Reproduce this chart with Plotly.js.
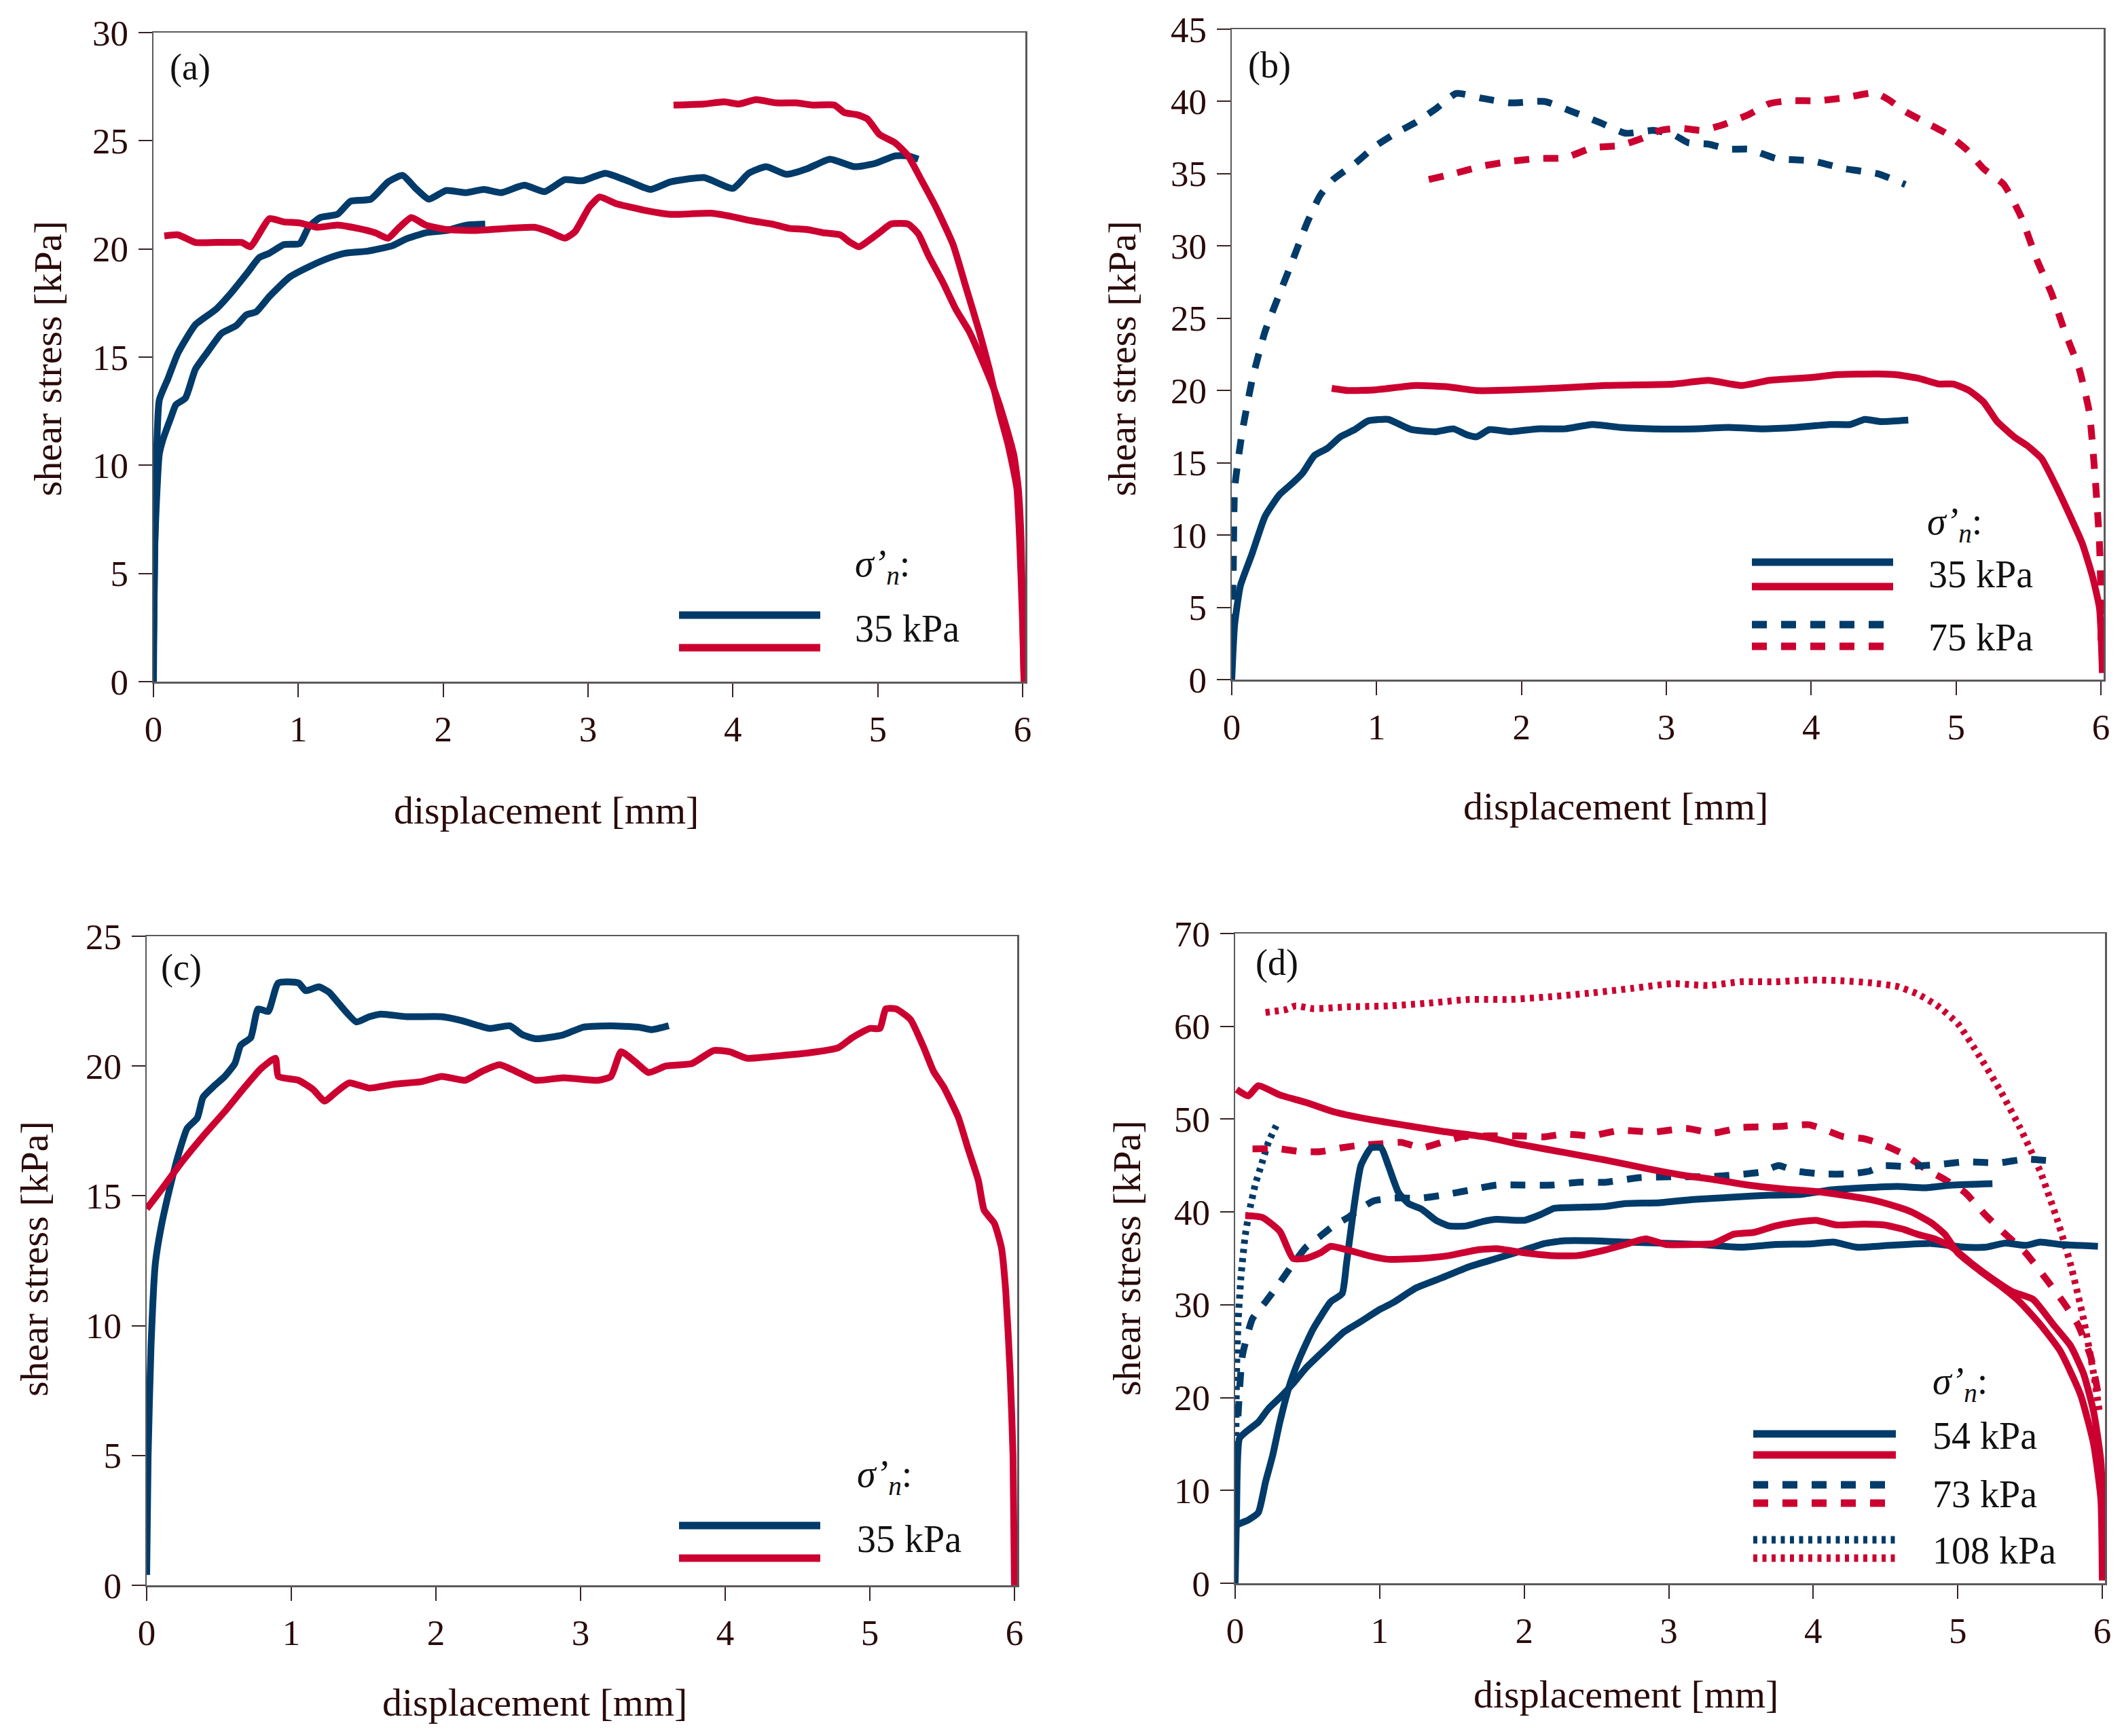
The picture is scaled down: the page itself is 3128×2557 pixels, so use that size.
<!DOCTYPE html>
<html>
<head>
<meta charset="utf-8">
<script src="https://cdn.plot.ly/plotly-3.0.1.min.js"></script>
<style>html,body{margin:0;padding:0;background:#fff;}#plot{width:3128px;height:2557px;}</style>
</head>
<body>
<div id="plot"></div>
<script>
// ---------------- DATA ----------------
// Panel (a)
const a_blue1_x = [0,0.01,0.04,0.1,0.17,0.29,0.43,0.54,0.66,0.73,0.8,0.9,1.01,1.07,1.15,1.27,1.36,1.5,1.62,1.72,1.81,1.9,2.02,2.16,2.28,2.4,2.56,2.7,2.84,2.96,3.12,3.29,3.43,3.57,3.8,4.0,4.11,4.23,4.37,4.51,4.67,4.84,4.98,5.12,5.21,5.28];
const a_blue1_y = [1.6,6.5,13.0,14.0,15.2,16.5,17.2,18.0,19.0,19.6,19.8,20.2,20.25,21.0,21.45,21.6,22.2,22.3,23.1,23.4,22.8,22.3,22.7,22.6,22.75,22.6,22.95,22.65,23.2,23.15,23.5,23.1,22.75,23.1,23.3,22.8,23.5,23.8,23.45,23.7,24.15,23.8,23.95,24.3,24.3,24.15];
const a_blue2_x = [0,0.01,0.04,0.066,0.12,0.155,0.22,0.29,0.38,0.47,0.57,0.64,0.71,0.8,0.94,1.08,1.22,1.32,1.48,1.65,1.74,1.88,2.02,2.16,2.29];
const a_blue2_y = [0,6.5,10.5,11.2,12.2,12.8,13.1,14.45,15.3,16.1,16.45,16.95,17.1,17.8,18.7,19.2,19.6,19.8,19.9,20.15,20.45,20.75,20.85,21.1,21.15];
const a_red1_x = [3.59,3.8,3.94,4.04,4.16,4.3,4.44,4.55,4.7,4.77,4.86,4.93,5.01,5.12,5.21,5.3,5.4,5.52,5.61,5.7,5.77,5.84,5.9,5.96,5.98,6.0,6.01];
const a_red1_y = [26.65,26.7,26.8,26.7,26.9,26.75,26.75,26.65,26.65,26.3,26.2,26.0,25.3,24.9,24.3,23.2,21.95,20.2,18.2,16.2,14.45,12.45,10.95,8.95,6.45,2.7,0];
const a_red2_x = [0.075,0.17,0.29,0.43,0.54,0.61,0.67,0.73,0.8,0.9,1.01,1.13,1.27,1.41,1.53,1.62,1.69,1.78,1.88,2.02,2.21,2.44,2.63,2.73,2.84,2.91,3.01,3.08,3.19,3.38,3.57,3.85,3.99,4.13,4.27,4.39,4.51,4.62,4.74,4.81,4.87,4.95,5.02,5.09,5.21,5.28,5.35,5.45,5.54,5.63,5.73,5.82,5.89,5.94,5.97,5.99,6.01];
const a_red2_y = [20.6,20.65,20.3,20.3,20.3,20.3,20.1,20.7,21.4,21.25,21.2,21.0,21.1,20.95,20.75,20.5,20.95,21.45,21.1,20.9,20.85,20.95,21.0,20.8,20.5,20.8,21.95,22.4,22.1,21.8,21.6,21.65,21.5,21.3,21.15,20.95,20.9,20.75,20.65,20.3,20.1,20.45,20.8,21.15,21.15,20.7,19.7,18.45,17.2,16.2,14.7,13.2,11.7,10.45,8.95,6.45,0];

// Panel (b)
const b_blue_solid_x = [0,0.02,0.06,0.14,0.23,0.33,0.42,0.49,0.57,0.66,0.75,0.85,0.94,1.08,1.15,1.24,1.41,1.53,1.62,1.69,1.78,1.92,2.11,2.3,2.49,2.68,2.91,3.19,3.43,3.66,3.9,4.13,4.27,4.37,4.48,4.67];
const b_blue_solid_y = [0,3.8,6.5,8.7,11.3,12.8,13.6,14.3,15.5,16.0,16.8,17.3,17.9,18.0,17.7,17.3,17.15,17.35,16.95,16.8,17.3,17.15,17.35,17.35,17.65,17.45,17.35,17.35,17.45,17.35,17.45,17.65,17.65,18.0,17.85,17.95];
const b_red_solid_x = [0.69,0.8,0.99,1.27,1.5,1.69,2.11,2.58,3.05,3.29,3.52,3.71,4.0,4.18,4.46,4.58,4.74,4.88,4.98,5.09,5.19,5.28,5.4,5.49,5.59,5.68,5.77,5.87,5.94,5.99,6.01];
const b_red_solid_y = [20.15,20.0,20.05,20.35,20.25,20.0,20.1,20.35,20.45,20.7,20.35,20.7,20.9,21.1,21.15,21.1,20.85,20.45,20.45,20.0,19.2,17.9,16.8,16.2,15.3,13.6,11.7,9.45,7.2,4.95,0.45];
const b_blue_dash_x = [0,0.01,0.02,0.07,0.14,0.23,0.33,0.42,0.52,0.61,0.7,0.85,0.99,1.13,1.27,1.41,1.55,1.74,1.92,2.16,2.35,2.54,2.72,2.91,3.05,3.15,3.29,3.43,3.57,3.76,4.0,4.23,4.46,4.65];
const b_blue_dash_y = [3.5,7.2,13.2,17.0,20.7,24.1,26.7,29.0,31.6,33.5,34.6,35.7,36.9,37.8,38.55,39.5,40.55,40.2,39.9,40.0,39.3,38.55,37.8,38.0,37.7,37.15,37.05,36.7,36.7,36.05,35.9,35.35,35.0,34.25];
const b_red_dash_x = [1.36,1.55,1.74,1.92,2.11,2.3,2.49,2.68,2.82,2.96,3.1,3.24,3.38,3.57,3.71,3.85,4.04,4.23,4.44,4.53,4.65,4.79,4.93,5.07,5.19,5.33,5.45,5.56,5.66,5.75,5.85,5.92,5.96,5.99,6.0,6.0];
const b_red_dash_y = [34.6,35.05,35.55,35.85,36.05,36.1,36.8,36.95,37.4,38.0,38.15,38.0,38.35,39.1,39.85,40.05,40.05,40.25,40.6,40.15,39.3,38.55,37.8,36.7,35.35,34.25,32.0,29.0,26.7,24.1,21.5,18.5,14.0,9.45,5.7,2.7];

// Panel (c)
const c_blue_x = [0,0.01,0.03,0.06,0.1,0.16,0.22,0.28,0.35,0.39,0.46,0.54,0.61,0.65,0.72,0.77,0.84,0.91,1.05,1.1,1.19,1.26,1.33,1.45,1.54,1.62,1.8,2.04,2.18,2.37,2.51,2.6,2.69,2.88,3.02,3.21,3.4,3.49,3.61];
const c_blue_y = [0.4,5.0,9.2,12.4,13.8,15.3,16.6,17.6,18.0,18.8,19.2,19.6,20.1,20.8,21.1,22.2,22.1,23.2,23.2,22.9,23.05,22.85,22.4,21.7,21.9,22.0,21.9,21.9,21.75,21.45,21.55,21.2,21.05,21.2,21.5,21.55,21.5,21.4,21.55];
const c_red_x = [0,0.11,0.25,0.39,0.54,0.68,0.79,0.89,0.91,1.05,1.15,1.23,1.31,1.4,1.54,1.71,1.9,2.04,2.2,2.32,2.44,2.55,2.69,2.88,3.12,3.21,3.28,3.38,3.47,3.59,3.77,3.92,4.03,4.15,4.38,4.57,4.78,4.88,5.0,5.07,5.11,5.18,5.28,5.37,5.44,5.51,5.61,5.68,5.75,5.79,5.86,5.91,5.94,5.97,5.99,6.0];
const c_red_y = [14.5,15.3,16.35,17.3,18.25,19.2,19.9,20.3,19.6,19.45,19.1,18.65,19.0,19.35,19.15,19.3,19.4,19.6,19.45,19.8,20.05,19.8,19.45,19.55,19.45,19.6,20.55,20.15,19.75,20.0,20.1,20.6,20.55,20.3,20.4,20.5,20.7,21.1,21.45,21.45,22.2,22.2,21.8,20.75,19.8,19.2,18.05,16.8,15.6,14.45,13.95,13.0,11.3,8.2,5.0,0];

// Panel (d)
const d_blue_spike_x = [0,0.01,0.09,0.16,0.21,0.26,0.31,0.38,0.45,0.54,0.66,0.74,0.77,0.82,0.87,0.94,1.01,1.06,1.13,1.2,1.29,1.39,1.48,1.6,1.72,1.81,2.0,2.11,2.21,2.37,2.56,2.7,2.94,3.17,3.45,3.69,3.92,4.11,4.35,4.58,4.77,4.96,5.24];
const d_blue_spike_y = [0,6.2,6.8,7.6,10.9,13.8,17.4,21.5,24.4,27.4,30.3,31.2,34.4,40.3,45.0,46.9,46.9,45.0,42.1,40.9,40.3,39.1,38.5,38.5,39.0,39.2,39.1,39.7,40.4,40.5,40.6,40.9,41.0,41.35,41.6,41.8,41.9,42.35,42.6,42.75,42.6,42.9,43.05];
const d_blue_smooth_x = [0,0.01,0.03,0.09,0.16,0.23,0.31,0.4,0.49,0.63,0.75,0.87,0.99,1.1,1.25,1.43,1.62,1.81,2.0,2.14,2.28,2.47,2.7,2.94,3.22,3.5,3.74,3.97,4.14,4.3,4.53,4.82,5.05,5.19,5.33,5.47,5.57,5.71,5.97];
const d_blue_smooth_y = [0,7.9,15.6,16.5,17.35,18.8,20.0,21.5,23.2,25.3,27.05,28.2,29.4,30.3,31.8,32.9,34.1,35.0,35.9,36.6,36.9,36.9,36.75,36.65,36.5,36.2,36.5,36.55,36.75,36.2,36.4,36.6,36.2,36.2,36.65,36.4,36.75,36.5,36.3];
const d_red_top_x = [0.01,0.09,0.16,0.31,0.49,0.68,0.92,1.15,1.43,1.72,2.0,2.28,2.56,2.84,3.08,3.31,3.55,3.78,4.02,4.21,4.39,4.53,4.68,4.82,4.91,5.0,5.15,5.29,5.43,5.57,5.71,5.85,5.94,5.99,6.0];
const d_red_top_y = [53.2,52.5,53.6,52.6,51.8,50.8,50.0,49.4,48.7,48.1,47.2,46.4,45.6,44.7,44.0,43.5,42.9,42.5,42.2,41.8,41.35,40.8,40.0,38.8,37.6,35.6,33.7,32.1,30.3,27.9,25.0,20.3,15.0,9.1,0.3];
const d_red_low_x = [0.07,0.19,0.31,0.4,0.49,0.59,0.66,0.78,0.92,1.06,1.29,1.48,1.67,1.81,2.0,2.19,2.37,2.56,2.7,2.84,2.98,3.17,3.31,3.45,3.59,3.74,3.88,4.02,4.16,4.35,4.49,4.63,4.72,4.84,4.96,5.1,5.24,5.38,5.52,5.66,5.78,5.87,5.94,5.99,6.02];
const d_red_low_y = [39.6,39.4,37.9,35.0,35.0,35.6,36.3,35.9,35.3,34.9,35.0,35.3,35.9,36.05,35.6,35.3,35.3,35.9,36.5,37.1,36.5,36.5,36.6,37.6,37.8,38.5,38.9,39.1,38.6,38.7,38.6,38.1,37.6,37.1,36.2,34.4,32.8,31.4,30.6,27.9,25.6,22.6,18.5,13.2,0.3];
const d_blue_dash_x = [0.02,0.05,0.12,0.21,0.31,0.4,0.49,0.59,0.68,0.78,0.87,0.96,1.1,1.29,1.43,1.62,1.81,2.0,2.19,2.37,2.56,2.8,3.03,3.27,3.5,3.64,3.76,3.88,4.06,4.25,4.39,4.49,4.63,4.86,5.05,5.29,5.47,5.64];
const d_blue_dash_y = [18.0,24.5,28.5,30.3,32.4,34.4,36.2,37.4,38.5,39.4,40.4,41.2,41.5,41.5,41.8,42.35,42.9,42.9,42.9,43.2,43.2,43.7,43.8,43.8,44.05,44.3,45.0,44.4,44.1,44.1,44.4,45.0,44.9,45.1,45.4,45.3,45.7,45.5];
const d_red_dash_x = [0.12,0.31,0.45,0.59,0.73,0.87,1.01,1.15,1.29,1.43,1.57,1.76,1.95,2.14,2.28,2.47,2.66,2.89,3.12,3.31,3.5,3.74,3.97,4.09,4.21,4.35,4.49,4.63,4.77,4.91,5.05,5.19,5.33,5.47,5.62,5.73,5.83,5.92,5.98];
const d_red_dash_y = [46.8,46.8,46.5,46.5,46.9,47.2,47.35,47.5,46.9,47.5,48.1,48.2,48.2,48.1,48.4,48.2,48.8,48.6,49.0,48.5,49.1,49.2,49.4,48.8,48.1,47.9,47.2,46.2,44.7,43.5,42.1,39.7,37.6,35.6,32.6,30.3,27.9,24.4,19.7];
const d_blue_dot_x = [0,0.005,0.01,0.02,0.04,0.07,0.1,0.14,0.18,0.23,0.3];
const d_blue_dot_y = [5,15,23,28,33,37.5,40.2,43,45,47.5,49.8];
const d_red_dot_x = [0.21,0.35,0.42,0.54,0.78,1.06,1.34,1.62,1.9,2.19,2.47,2.75,3.03,3.27,3.5,3.74,3.97,4.21,4.39,4.58,4.72,4.86,5.0,5.15,5.29,5.43,5.57,5.69,5.78,5.87,5.94,5.98];
const d_red_dot_y = [61.5,61.8,62.2,61.9,62.1,62.2,62.5,62.9,62.9,63.2,63.6,64.1,64.6,64.4,64.8,64.8,65.0,64.9,64.7,64.3,63.5,62.2,60.3,56.8,53.2,49.1,44.4,39.1,34.4,28.5,22.6,18.5];

// Axis ticks / labels
const xTicks = [0,1,2,3,4,5,6];
const yTicksA = [0,5,10,15,20,25,30];
const yTicksB = [0,5,10,15,20,25,30,35,40,45];
const yTicksC = [0,5,10,15,20,25];
const yTicksD = [0,10,20,30,40,50,60,70];
const panelLabels = ['(a)','(b)','(c)','(d)'];
const xTitle = 'displacement [mm]';
const yTitle = 'shear stress [kPa]';
const legendHead = '<i>σ’<sub>n</sub></i>:';
const legendA = ['35 kPa'];
const legendB = ['35 kPa','75 kPa'];
const legendC = ['35 kPa'];
const legendD = ['54 kPa','73 kPa','108 kPa'];

// ---------------- STYLE / LAYOUT ----------------
const W = 3128, H = 2557;
const BLUE = '#003b6a', RED = '#cc0030';
const LW = 10, LLW = 11;
const DASH = '22px,21px';
const DOT = '6px,7.5px';
const FONT = 'Liberation Serif, Times New Roman, serif';
const TXT = '#2a0a0a';

// pixel boxes: x0 px, x6 px, top px, bottom px
const boxes = [
  {x0:226, x6:1506, top:48, bot:1004, ymax:30, ticks:yTicksA},
  {x0:1814, x6:3094, top:43, bot:1001, ymax:45, ticks:yTicksB},
  {x0:216, x6:1494, top:1379, bot:2335, ymax:25, ticks:yTicksC},
  {x0:1819, x6:3096, top:1375, bot:2332, ymax:70, ticks:yTicksD}
];
const XMAX = 6.02;

function px(x){return x/W;}
function py(y){return 1-y/H;}

const layout = {
  width: W, height: H,
  margin: {l:0,r:0,t:0,b:0},
  paper_bgcolor: '#fff', plot_bgcolor: '#fff',
  showlegend: false,
  font: {family: FONT, color: TXT, size: 52},
  annotations: [], shapes: []
};

boxes.forEach((b,i)=>{
  const n = i===0 ? '' : String(i+1);
  const xr = b.x0 + (b.x6-b.x0)*XMAX/6;
  layout['xaxis'+n] = {
    domain:[px(b.x0), px(xr)], range:[0,XMAX], anchor:'y'+n,
    tickvals:xTicks, ticktext:xTicks.map(String),
    ticks:'outside', ticklen:20, tickwidth:2, tickcolor:'#3a2222',
    showline:true, linecolor:'#5a5a5a', linewidth:2.5, mirror:true,
    showgrid:false, zeroline:false, ticklabelstandoff:2,
    tickfont:{family:FONT, size:53, color:TXT}
  };
  layout['yaxis'+n] = {
    domain:[py(b.bot), py(b.top)], range:[0,b.ymax], anchor:'x'+n,
    tickvals:b.ticks, ticktext:b.ticks.map(String),
    ticks:'outside', ticklen:20, tickwidth:2, tickcolor:'#3a2222',
    showline:true, linecolor:'#5a5a5a', linewidth:2.5, mirror:true,
    showgrid:false, zeroline:false, ticklabelstandoff:4,
    tickfont:{family:FONT, size:53, color:TXT}
  };
});

// axis titles & panel labels as annotations
const yTitlePos = [[70,528],[1652,528],[50,1854],[1659,1853]];
const xTitlePos = [[805,1193],[2379,1187],[787,2507],[2394,2495]];
const labelPos = [[248,99],[1836,96],[235,1425],[1847,1418]];
for(let i=0;i<4;i++){
  layout.annotations.push({xref:'paper',yref:'paper',x:px(yTitlePos[i][0]),y:py(yTitlePos[i][1]),
    text:yTitle,showarrow:false,textangle:-90,xanchor:'center',yanchor:'middle',
    font:{family:FONT,size:58,color:TXT}});
  layout.annotations.push({xref:'paper',yref:'paper',x:px(xTitlePos[i][0]),y:py(xTitlePos[i][1]),
    text:xTitle,showarrow:false,xanchor:'center',yanchor:'middle',
    font:{family:FONT,size:58,color:TXT}});
  layout.annotations.push({xref:'paper',yref:'paper',x:px(labelPos[i][0]),y:py(labelPos[i][1]),
    text:panelLabels[i],showarrow:false,xanchor:'left',yanchor:'middle',
    font:{family:FONT,size:54,color:'#111'}});
}

// legend blocks
const legends = [
  {hx:1257, hy:834, lx0:1000, lx1:1208, tx:1257, items:[{yb:906, yr:954, dash:'solid', text:legendA[0], ty:926}]},
  {hx:2836, hy:772, lx0:2580, lx1:2788, tx:2838, items:[
     {yb:828, yr:864, dash:'solid', text:legendB[0], ty:846},
     {yb:920, yr:952, dash:DASH, text:legendB[1], ty:939}]},
  {hx:1260, hy:2175, lx0:1000, lx1:1208, tx:1260, items:[{yb:2247, yr:2295, dash:'solid', text:legendC[0], ty:2267}]},
  {hx:2844, hy:2038, lx0:2582, lx1:2792, tx:2844, items:[
     {yb:2112, yr:2143, dash:'solid', text:legendD[0], ty:2115},
     {yb:2187, yr:2214, dash:DASH, text:legendD[1], ty:2201},
     {yb:2268, yr:2295, dash:DOT, text:legendD[2], ty:2284}]}
];
legends.forEach(L=>{
  layout.annotations.push({xref:'paper',yref:'paper',x:px(L.hx),y:py(L.hy),text:legendHead,showarrow:false,
    xanchor:'left',yanchor:'middle',font:{family:FONT,size:56,color:'#111'}});
  L.items.forEach(it=>{
    [[it.yb,BLUE],[it.yr,RED]].forEach(([yy,c])=>{
      layout.shapes.push({type:'line',xref:'paper',yref:'paper',x0:px(L.lx0),x1:px(L.lx1),y0:py(yy),y1:py(yy),
        line:{color:c,width:LLW,dash:it.dash}});
    });
    layout.annotations.push({xref:'paper',yref:'paper',x:px(L.tx),y:py(it.ty),text:it.text,showarrow:false,
      xanchor:'left',yanchor:'middle',font:{family:FONT,size:56,color:'#111'}});
  });
});

function tr(x,y,color,ax,dash){
  const n = ax===1?'':String(ax);
  return {x:x,y:y,type:'scatter',mode:'lines',xaxis:'x'+n,yaxis:'y'+n,
    line:{color:color,width:LW,dash:dash||'solid',shape:'spline',smoothing:0.5},hoverinfo:'skip'};
}

const data = [
  tr(a_blue1_x,a_blue1_y,BLUE,1), tr(a_blue2_x,a_blue2_y,BLUE,1),
  tr(a_red1_x,a_red1_y,RED,1), tr(a_red2_x,a_red2_y,RED,1),
  tr(b_blue_dash_x,b_blue_dash_y,BLUE,2,DASH), tr(b_red_dash_x,b_red_dash_y,RED,2,DASH),
  tr(b_blue_solid_x,b_blue_solid_y,BLUE,2), tr(b_red_solid_x,b_red_solid_y,RED,2),
  tr(c_blue_x,c_blue_y,BLUE,3), tr(c_red_x,c_red_y,RED,3),
  tr(d_red_dot_x,d_red_dot_y,RED,4,DOT), tr(d_blue_dot_x,d_blue_dot_y,BLUE,4,DOT),
  tr(d_red_dash_x,d_red_dash_y,RED,4,DASH), tr(d_blue_dash_x,d_blue_dash_y,BLUE,4,DASH),
  tr(d_blue_smooth_x,d_blue_smooth_y,BLUE,4), tr(d_blue_spike_x,d_blue_spike_y,BLUE,4),
  tr(d_red_low_x,d_red_low_y,RED,4), tr(d_red_top_x,d_red_top_y,RED,4)
];

Plotly.newPlot('plot', data, layout, {staticPlot:true, displayModeBar:false});
</script>
</body>
</html>
